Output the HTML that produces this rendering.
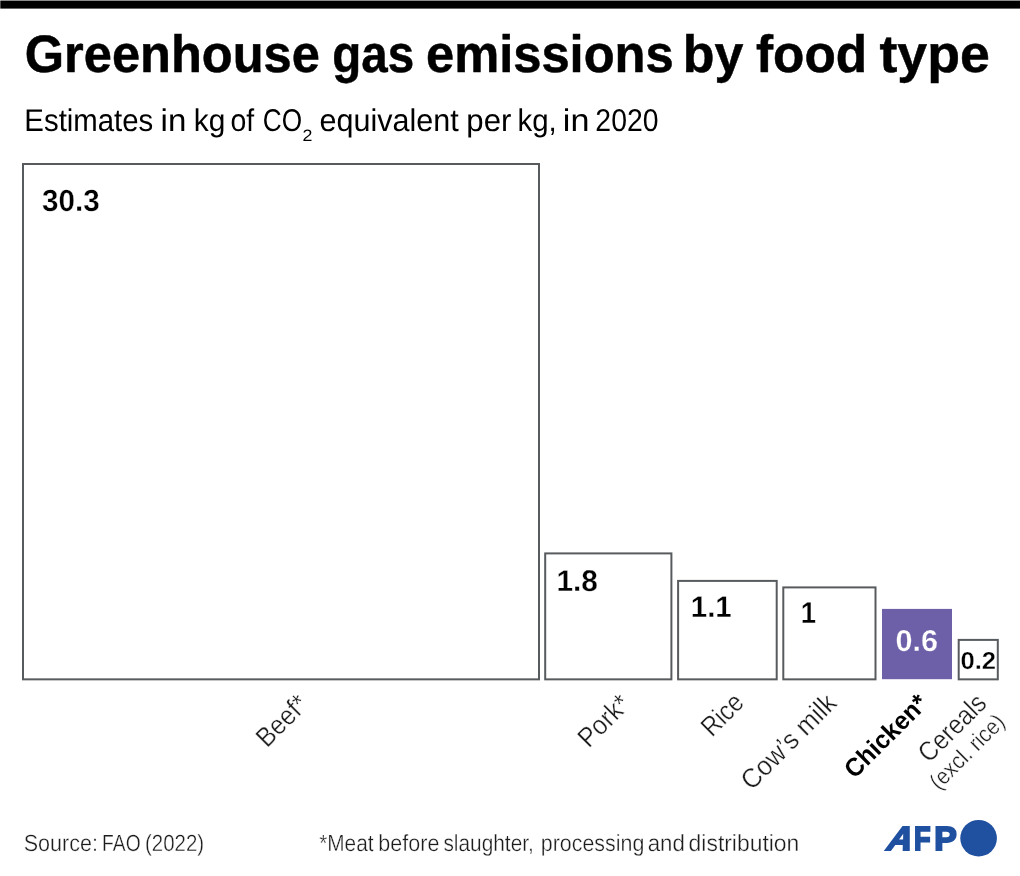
<!DOCTYPE html>
<html lang="en">
<head>
<meta charset="utf-8">
<title>Greenhouse gas emissions by food type</title>
<style>
html,body{margin:0;padding:0;background:#fff;}
body{width:1020px;height:876px;overflow:hidden;}
svg{display:block;font-family:"Liberation Sans",sans-serif;text-rendering:geometricPrecision;}
text{white-space:pre;}
</style>
</head>
<body>
<svg width="1020" height="876" viewBox="0 0 1020 876">
<rect x="0.3" y="0.55" width="1020" height="8.05" fill="#000"/>
<text transform="translate(24.77 72.3) scale(0.9632 1.0000)" font-size="52.5" font-weight="700" fill="#000" stroke="#000" stroke-width="0.5">Greenhouse</text>
<text transform="translate(332.19 72.3) scale(0.9052 1.0000)" font-size="52.5" font-weight="700" fill="#000" stroke="#000" stroke-width="0.5">gas</text>
<text transform="translate(426.01 72.3) scale(0.9644 1.0000)" font-size="52.5" font-weight="700" fill="#000" stroke="#000" stroke-width="0.5">emissions</text>
<text transform="translate(682.79 72.3) scale(0.9879 1.0000)" font-size="52.5" font-weight="700" fill="#000" stroke="#000" stroke-width="0.5">by</text>
<text transform="translate(755.97 72.3) scale(0.9777 1.0000)" font-size="52.5" font-weight="700" fill="#000" stroke="#000" stroke-width="0.5">food</text>
<text transform="translate(879.49 72.3) scale(1.0217 1.0000)" font-size="52.5" font-weight="700" fill="#000" stroke="#000" stroke-width="0.5">type</text>
<text transform="translate(24.36 131) scale(0.9356 1.0000)" font-size="31.4" font-weight="400" fill="#000">Estimates</text>
<text transform="translate(160.59 131) scale(1.0537 1.0000)" font-size="31.4" font-weight="400" fill="#000">in</text>
<text transform="translate(193.8 131) scale(0.9517 1.0000)" font-size="31.4" font-weight="400" fill="#000">kg</text>
<text transform="translate(230.57 131) scale(0.9040 1.0000)" font-size="31.4" font-weight="400" fill="#000">of</text>
<text transform="translate(262.75 131) scale(0.8341 1.0000)" font-size="31.4" font-weight="400" fill="#000">CO</text>
<text transform="translate(319.48 131) scale(0.9724 1.0000)" font-size="31.4" font-weight="400" fill="#000">equivalent</text>
<text transform="translate(466.32 131) scale(0.9918 1.0000)" font-size="31.4" font-weight="400" fill="#000">per</text>
<text transform="translate(517.42 131) scale(0.9378 1.0000)" font-size="31.4" font-weight="400" fill="#000">kg,</text>
<text transform="translate(562.82 131) scale(1.0878 1.0000)" font-size="31.4" font-weight="400" fill="#000">in</text>
<text transform="translate(595.34 131) scale(0.9045 1.0000)" font-size="31.4" font-weight="400" fill="#000">2020</text>
<text transform="translate(302.49 141) scale(1.0800 1.0000)" font-size="16.5" font-weight="400" fill="#000">2</text>
<rect x="23" y="164" width="516" height="515.35" fill="none" stroke="#585b5e" stroke-width="2"/>
<rect x="545.2" y="553.4" width="126.2" height="125.95" fill="none" stroke="#585b5e" stroke-width="2"/>
<rect x="678.1" y="580.9" width="98.6" height="98.45" fill="none" stroke="#585b5e" stroke-width="2"/>
<rect x="783.3" y="587.4" width="92.2" height="91.95" fill="none" stroke="#585b5e" stroke-width="2"/>
<rect x="882" y="608.9" width="70" height="70.3" fill="#6d5fa8"/>
<rect x="958.7" y="639.9" width="39.1" height="39.45" fill="none" stroke="#585b5e" stroke-width="2"/>
<text transform="translate(42.01 211) scale(0.9875 1.0169)" font-size="30" font-weight="700" fill="#000" stroke="#fff" stroke-width="0.3">30.3</text>
<text transform="translate(556.41 590.8) scale(0.9948 0.9976)" font-size="30" font-weight="700" fill="#000" stroke="#fff" stroke-width="0.3">1.8</text>
<text transform="translate(690.73 617.1) scale(0.9832 0.9902)" font-size="30" font-weight="700" fill="#000" stroke="#fff" stroke-width="0.3">1.1</text>
<text transform="translate(800.87 623) scale(0.9164 1.0000)" font-size="30" font-weight="700" fill="#000" stroke="#fff" stroke-width="0.3">1</text>
<text transform="translate(895.53 651.4) scale(1.0191 1.0072)" font-size="30" font-weight="700" fill="#fff" stroke="#6d5fa8" stroke-width="0.3">0.6</text>
<text transform="translate(960.39 668.5) scale(1.0457 1.0000)" font-size="24.5" font-weight="700" fill="#000" stroke="#fff" stroke-width="0.3">0.2</text>
<text transform="translate(266.96 748.44) rotate(-45) scale(0.9664 1.0700)" font-size="25.5" font-weight="400" fill="#1c1c1c" stroke="#fff" stroke-width="0.3">Beef*</text>
<text transform="translate(588.65 748.65) rotate(-45) scale(0.9748 1.0700)" font-size="25.5" font-weight="400" fill="#1c1c1c" stroke="#fff" stroke-width="0.3">Pork*</text>
<text transform="translate(711.93 737.67) rotate(-45) scale(0.9263 1.0700)" font-size="25.5" font-weight="400" fill="#1c1c1c" stroke="#fff" stroke-width="0.3">Rice</text>
<text transform="translate(751.73 791.17) rotate(-45) scale(1.0075 1.0700)" font-size="25.5" font-weight="400" fill="#1c1c1c" stroke="#fff" stroke-width="0.3">Cow’s milk</text>
<text transform="translate(854.42 779.48) rotate(-45) scale(0.9685 1.0000)" font-size="25.5" font-weight="700" fill="#000">Chicken*</text>
<text transform="translate(929.09 763.81) rotate(-45) scale(0.9490 1.0700)" font-size="25.5" font-weight="400" fill="#1c1c1c" stroke="#fff" stroke-width="0.3">Cereals</text>
<text transform="translate(938.78 790.87) rotate(-45) scale(0.9610 1.0700)" font-size="21.5" font-weight="400" fill="#1c1c1c" stroke="#fff" stroke-width="0.3">(excl. rice)</text>
<text transform="translate(23.75 850.6) scale(0.8978 0.9750)" font-size="24" font-weight="400" fill="#1c1c1c" stroke="#fff" stroke-width="0.35">Source:</text>
<text transform="translate(102.09 850.6) scale(0.8022 0.9750)" font-size="24" font-weight="400" fill="#1c1c1c" stroke="#fff" stroke-width="0.35">FAO</text>
<text transform="translate(145.01 850.6) scale(0.8515 0.9750)" font-size="24" font-weight="400" fill="#1c1c1c" stroke="#fff" stroke-width="0.35">(2022)</text>
<text transform="translate(319.15 850.6) scale(0.8683 0.9750)" font-size="24" font-weight="400" fill="#1c1c1c" stroke="#fff" stroke-width="0.35">*Meat</text>
<text transform="translate(378.33 850.6) scale(0.8969 0.9750)" font-size="24" font-weight="400" fill="#1c1c1c" stroke="#fff" stroke-width="0.35">before</text>
<text transform="translate(443.43 850.6) scale(0.8685 0.9750)" font-size="24" font-weight="400" fill="#1c1c1c" stroke="#fff" stroke-width="0.35">slaughter,</text>
<text transform="translate(540.84 850.6) scale(0.8916 0.9750)" font-size="24" font-weight="400" fill="#1c1c1c" stroke="#fff" stroke-width="0.35">processing</text>
<text transform="translate(647.74 850.6) scale(0.9270 0.9750)" font-size="24" font-weight="400" fill="#1c1c1c" stroke="#fff" stroke-width="0.35">and</text>
<text transform="translate(688.61 850.6) scale(0.9540 0.9750)" font-size="24" font-weight="400" fill="#1c1c1c" stroke="#fff" stroke-width="0.35">distribution</text>
<g aria-label="AFP">
<text transform="translate(884.76 850.2) scale(1.0118 0.9856) skewX(-20)" font-size="34" font-weight="700" fill="#2050a0" stroke="#2050a0" stroke-width="2">A</text>
<text transform="translate(914 850.2) scale(0.8000 0.9856)" font-size="34" font-weight="700" fill="#2050a0" stroke="#2050a0" stroke-width="2">F</text>
<text transform="translate(934.36 850.2) scale(0.9929 0.9856)" font-size="34" font-weight="700" fill="#2050a0" stroke="#2050a0" stroke-width="2">P</text>
</g>
<circle cx="978.6" cy="838.2" r="18.3" fill="#2050a0"/>
</svg>
</body>
</html>
